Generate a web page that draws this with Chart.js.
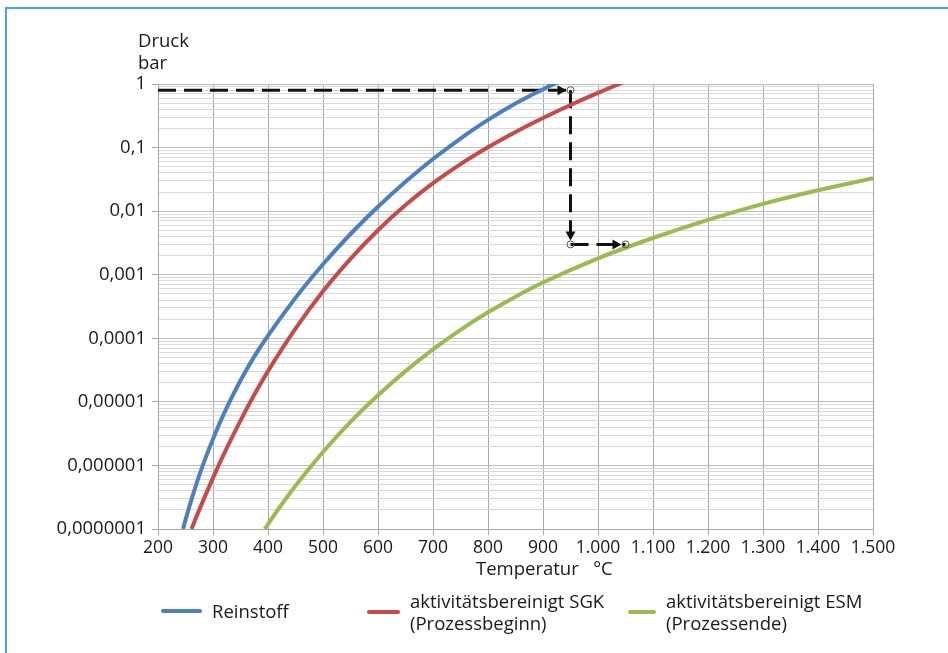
<!DOCTYPE html>
<html lang="de">
<head>
<meta charset="UTF-8">
<title>Dampfdruck</title>
<script src="https://cdn.jsdelivr.net/npm/chart.js"></script>
<style>
  body { margin: 0; background: #fff; font-family: "Open Sans", sans-serif; color: #1a1a1a; }
  .frame { position: relative; width: 948px; height: 653px; overflow: hidden; }
  .frame::before { content: ''; position: absolute; left: 5px; top: 7px; right: -10px; bottom: -10px;
    border-top: 2px solid #45a6dc; border-left: 2px solid #45a6dc; }
  canvas { position: absolute; left: 0; top: 0; }
  .label { position: absolute; font-size: 18.5px; line-height: 22px; white-space: pre; }
  .legend-item { position: absolute; display: flex; align-items: center; font-size: 18.5px; line-height: 22px; white-space: pre; }
  .swatch { height: 4px; border-radius: 2px; margin-right: 10px; }
</style>
</head>
<body>
<div class="frame">
  <canvas id="chart" width="948" height="653"></canvas>
  <div class="label" style="left:138px; top:29px;">Druck
bar</div>
  <div class="label" style="left:476px; top:557px;">Temperatur   °C</div>
  <div id="legend"></div>
</div>

<script>
  // Achsen
  const xTickValues = [200, 300, 400, 500, 600, 700, 800, 900, 1000, 1100, 1200, 1300, 1400, 1500];
  const xTickLabels = ['200', '300', '400', '500', '600', '700', '800', '900',
    '1.000', '1.100', '1.200', '1.300', '1.400', '1.500'];
  const yTickValues = [1e-7, 1e-6, 1e-5, 1e-4, 1e-3, 1e-2, 1e-1, 1];
  const yTickLabels = ['0,0000001', '0,000001', '0,00001', '0,0001', '0,001', '0,01', '0,1', '1'];

  // Reinstoff (Temperatur in °C, Druck in bar)
  const reinstoffT = [245.5, 250, 275, 300, 325, 350, 375, 400, 450, 500, 550, 600, 650, 700, 750, 800, 850, 900, 915, 930];
  const reinstoffP = [1.0e-7, 1.39e-7, 6.95e-7, 2.61e-6, 8.09e-6, 2.17e-5, 5.15e-5, 1.10e-4, 4.32e-4, 1.46e-3,
    4.37e-3, 0.01175, 0.0290, 0.0661, 0.1388, 0.2723, 0.4926, 0.827, 0.96, 1.10];

  // aktivitätsbereinigt SGK (Prozessbeginn)
  const sgkT = [261, 275, 300, 325, 350, 375, 400, 450, 500, 550, 600, 650, 700, 750, 800, 850, 900, 950, 1000, 1050];
  const sgkP = [1.0e-7, 2.0e-7, 6.38e-7, 1.87e-6, 5.08e-6, 1.29e-5, 3.04e-5, 1.42e-4, 5.50e-4, 1.78e-3,
    5.01e-3, 0.01245, 0.0275, 0.0550, 0.1012, 0.1758, 0.2917, 0.4677, 0.7244, 1.096];

  // aktivitätsbereinigt ESM (Prozessende)
  const esmT = [394, 420, 450, 500, 550, 600, 650, 700, 750, 800, 850, 900, 1000, 1100, 1200, 1300, 1400, 1500];
  const esmP = [1.0e-7, 2.12e-7, 4.79e-7, 1.63e-6, 4.84e-6, 1.27e-5, 3.04e-5, 6.68e-5, 1.36e-4, 2.56e-4,
    4.52e-4, 7.54e-4, 1.81e-3, 3.78e-3, 7.29e-3, 0.0130, 0.0213, 0.0329];

  // Ablesepfeile
  const arrowT = [200, 950, 950, 1050];
  const arrowP = [0.8, 0.8, 0.003, 0.003];

  const seriesNames = ['Reinstoff', 'aktivitätsbereinigt SGK\n(Prozessbeginn)', 'aktivitätsbereinigt ESM\n(Prozessende)'];
  const seriesColors = ['#4a7fc1', '#c54b48', '#9bbb50'];

  const toPoints = (xs, ys) => xs.map((x, i) => ({ x, y: ys[i] }));

  const curve = (i, xs, ys) => ({
    label: seriesNames[i],
    data: toPoints(xs, ys),
    borderColor: seriesColors[i],
    borderWidth: 4,
    pointRadius: 0,
    cubicInterpolationMode: 'monotone',
    clip: 0
  });

  const arrowSegment = (from, to) => ({
    label: 'arrow',
    data: toPoints(arrowT.slice(from, to + 1), arrowP.slice(from, to + 1)),
    borderColor: '#111',
    borderWidth: 3,
    borderDash: [18, 8],
    pointRadius: 0,
    clip: 0
  });

  // Pfeilspitzen am Ende jedes Abschnitts, kurz vor dem Kreis
  const arrowHeads = {
    id: 'arrowHeads',
    afterDatasetsDraw(chart) {
      const { ctx, scales: { x, y } } = chart;
      ctx.save();
      for (let i = 1; i < arrowT.length; i++) {
        const x0 = x.getPixelForValue(arrowT[i - 1]), y0 = y.getPixelForValue(arrowP[i - 1]);
        const x1 = x.getPixelForValue(arrowT[i]), y1 = y.getPixelForValue(arrowP[i]);
        const a = Math.atan2(y1 - y0, x1 - x0);
        ctx.translate(x1, y1);
        ctx.rotate(a);
        ctx.fillStyle = '#111';
        ctx.beginPath();
        ctx.moveTo(-4, 0);
        ctx.lineTo(-13, -5);
        ctx.lineTo(-13, 5);
        ctx.closePath();
        ctx.fill();
        ctx.setTransform(1, 0, 0, 1, 0, 0);
      }
      // kleine Kreise an den Ablesepunkten
      ctx.strokeStyle = '#555';
      ctx.lineWidth = 1;
      for (let i = 1; i < arrowT.length; i++) {
        ctx.beginPath();
        ctx.arc(x.getPixelForValue(arrowT[i]), y.getPixelForValue(arrowP[i]), 3.5, 0, Math.PI * 2);
        ctx.stroke();
      }
      ctx.restore();
    }
  };

  new Chart(document.getElementById('chart'), {
    type: 'line',
    data: {
      datasets: [
        curve(0, reinstoffT, reinstoffP),
        curve(1, sgkT, sgkP),
        curve(2, esmT, esmP),
        arrowSegment(0, 1),
        arrowSegment(1, 2),
        arrowSegment(2, 3)
      ]
    },
    options: {
      responsive: false,
      animation: false,
      layout: { padding: { top: 84, right: 75, left: 0, bottom: 0 } },
      plugins: { legend: { display: false }, tooltip: { enabled: false } },
      scales: {
        x: {
          type: 'linear',
          min: 200,
          max: 1500,
          afterFit: (scale) => { scale.height = 124; },
          afterBuildTicks: (scale) => { scale.ticks = xTickValues.map(v => ({ value: v })); },
          ticks: {
            autoSkip: false,
            maxRotation: 0,
            padding: 3,
            color: '#1a1a1a',
            font: { family: '"Open Sans", sans-serif', size: 17.5 },
            callback: (v) => xTickLabels[xTickValues.indexOf(v)] ?? ''
          },
          grid: { color: '#a8a8a8', lineWidth: 1, tickLength: 6, tickColor: '#a8a8a8' },
          border: { color: '#a8a8a8' }
        },
        y: {
          type: 'logarithmic',
          min: 1e-7,
          max: 1,
          afterFit: (scale) => { scale.width = 158; },
          afterBuildTicks: (scale) => {
            const ticks = [];
            yTickValues.forEach((v, i) => {
              ticks.push({ value: v, major: true });
              if (i < yTickValues.length - 1) {
                for (let m = 2; m <= 9; m++) ticks.push({ value: v * m, major: false });
              }
            });
            scale.ticks = ticks;
          },
          ticks: {
            autoSkip: false,
            padding: 6,
            color: '#1a1a1a',
            font: { family: '"Open Sans", sans-serif', size: 18.5 },
            callback: (v) => {
              const i = yTickValues.indexOf(v);
              return i >= 0 ? yTickLabels[i] : '';
            }
          },
          grid: {
            color: (c) => (c.tick && c.tick.major ? '#bdbdbd' : '#d9d9d9'),
            lineWidth: 1,
            tickLength: 6,
            tickColor: (c) => (c.tick && c.tick.major ? '#a8a8a8' : 'rgba(0,0,0,0)')
          },
          border: { color: '#a8a8a8' }
        }
      }
    },
    plugins: [arrowHeads]
  });

  // Legende
  const legendPos = [{ left: 161, top: 600, w: 41 }, { left: 367, top: 590, w: 33 }, { left: 628, top: 590, w: 28 }];
  const legend = document.getElementById('legend');
  seriesNames.forEach((name, i) => {
    const item = document.createElement('div');
    item.className = 'legend-item';
    item.style.left = legendPos[i].left + 'px';
    item.style.top = legendPos[i].top + 'px';
    item.innerHTML = `<span class="swatch" style="width:${legendPos[i].w}px;background:${seriesColors[i]}"></span><span></span>`;
    item.lastChild.textContent = name;
    legend.appendChild(item);
  });
</script>
</body>
</html>
